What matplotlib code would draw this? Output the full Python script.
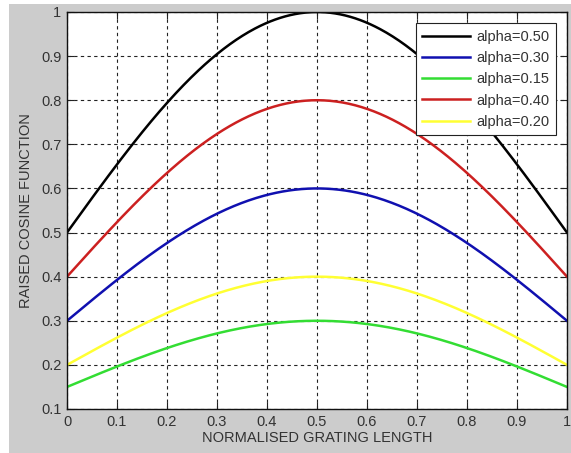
import numpy as np
import matplotlib
matplotlib.use("Agg")
import matplotlib.pyplot as plt
from matplotlib.patches import Rectangle

# Apodisation parameters for each profile, in legend order
alphas = [0.50, 0.30, 0.15, 0.40, 0.20]
colors = ["#000000", "#1010b0", "#33dd33", "#cc2020", "#ffff33"]
labels = ["alpha=0.50", "alpha=0.30", "alpha=0.15", "alpha=0.40", "alpha=0.20"]

x_ticks = [0, 0.1, 0.2, 0.3, 0.4, 0.5, 0.6, 0.7, 0.8, 0.9, 1]
x_tick_labels = ["0", "0.1", "0.2", "0.3", "0.4", "0.5", "0.6", "0.7", "0.8", "0.9", "1"]
y_ticks = [0.1, 0.2, 0.3, 0.4, 0.5, 0.6, 0.7, 0.8, 0.9, 1]
y_tick_labels = ["0.1", "0.2", "0.3", "0.4", "0.5", "0.6", "0.7", "0.8", "0.9", "1"]

# Normalised position along the grating
z = np.linspace(0, 1, 400)

plt.rcParams["font.family"] = ["Liberation Sans", "DejaVu Sans"]

W, H = 571, 453
fig = plt.figure(figsize=(W / 100, H / 100), dpi=100, facecolor="white")
fig.patches.append(Rectangle((9 / W, -0.01), 1 - 9 / W + 0.01, 1.01 - 4 / H,
                             transform=fig.transFigure, facecolor="#cccccc",
                             edgecolor="none", zorder=-10))

left, right, top, bottom = 67, 567, 12, 409
ax = fig.add_axes([left / W, 1 - bottom / H, (right - left) / W, (bottom - top) / H])
ax.set_facecolor("white")

for a, c, lab in zip(alphas, colors, labels):
    profile = a * (1 + np.cos(np.pi * (z - 0.5)))
    ax.plot(z, profile, color=c, lw=1.8, label=lab)

ax.set_xlim(0, 1)
ax.set_ylim(0.1, 1)
ax.set_xticks(x_ticks)
ax.set_xticklabels(x_tick_labels)
ax.set_yticks(y_ticks)
ax.set_yticklabels(y_tick_labels)
ax.tick_params(direction="in", top=True, right=True, length=5, width=0.8,
               labelsize=10.5, colors="#222222", labelcolor="#333333", pad=4)
ax.grid(True, color="#222222", linestyle=(0, (3, 3)), linewidth=0.8)
for s in ax.spines.values():
    s.set_color("#111111")
    s.set_linewidth(1.0)

ax.set_xlabel("NORMALISED GRATING LENGTH", fontsize=10.5, color="#333333", labelpad=2)
ax.set_ylabel("RAISED COSINE FUNCTION", fontsize=10.5, color="#333333", labelpad=6)

leg = ax.legend(loc="upper right", bbox_to_anchor=(0.978, 0.972), fontsize=10.5,
                fancybox=False, framealpha=1, edgecolor="#222222",
                handlelength=3.3, handletextpad=0.4, borderpad=0.45,
                labelspacing=0.5, borderaxespad=0)
leg.get_frame().set_linewidth(0.8)
for t in leg.get_texts():
    t.set_color("#333333")

fig.savefig("out.png", dpi=100, facecolor=fig.get_facecolor())
